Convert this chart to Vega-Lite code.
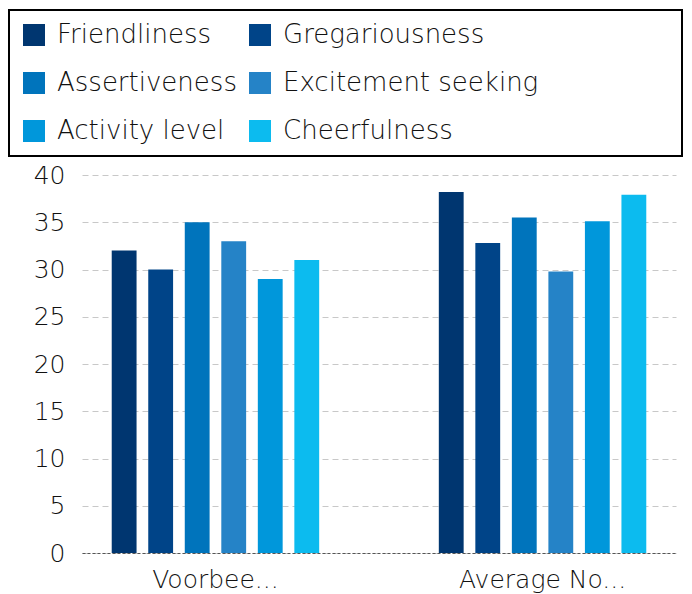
{
  "$schema": "https://vega.github.io/schema/vega-lite/v6.json",
  "width": 594,
  "height": 378,
  "autosize": "none",
  "padding": {"left": 82, "top": 175, "right": 16, "bottom": 41},
  "background": "white",
  "config": {
    "view": {"stroke": null},
    "font": "DejaVu Sans Light, DejaVu Sans",
    "legend": {"strokeColor": "#000000", "padding": 12}
  },
  "data": {
    "values": [
      {"group": "Voorbee...", "metric": "Friendliness", "value": 32},
      {"group": "Voorbee...", "metric": "Gregariousness", "value": 30},
      {"group": "Voorbee...", "metric": "Assertiveness", "value": 35},
      {"group": "Voorbee...", "metric": "Excitement seeking", "value": 33},
      {"group": "Voorbee...", "metric": "Activity level", "value": 29},
      {"group": "Voorbee...", "metric": "Cheerfulness", "value": 31},
      {"group": "Average No...", "metric": "Friendliness", "value": 38.2},
      {"group": "Average No...", "metric": "Gregariousness", "value": 32.8},
      {"group": "Average No...", "metric": "Assertiveness", "value": 35.5},
      {"group": "Average No...", "metric": "Excitement seeking", "value": 29.8},
      {"group": "Average No...", "metric": "Activity level", "value": 35.1},
      {"group": "Average No...", "metric": "Cheerfulness", "value": 37.9}
    ]
  },
  "mark": {"type": "bar"},
  "encoding": {
    "x": {
      "field": "group",
      "type": "nominal",
      "sort": ["Voorbee...", "Average No..."],
      "scale": {"paddingInner": 0.33, "paddingOuter": 0.073},
      "axis": {
        "title": null,
        "labelAngle": 0,
        "labelFontSize": 25,
        "labelFontWeight": 200,
        "labelColor": "#111111",
        "labelPadding": 14,
        "ticks": false,
        "domain": true,
        "domainColor": "#555555",
        "domainDash": [3, 2],
        "domainWidth": 1,
        "grid": false
      }
    },
    "xOffset": {
      "field": "metric",
      "type": "nominal",
      "sort": ["Friendliness", "Gregariousness", "Assertiveness", "Excitement seeking", "Activity level", "Cheerfulness"],
      "scale": {"paddingInner": 0.32, "paddingOuter": 0.16}
    },
    "y": {
      "field": "value",
      "type": "quantitative",
      "scale": {"domain": [0, 40]},
      "axis": {
        "title": null,
        "values": [0, 5, 10, 15, 20, 25, 30, 35, 40],
        "domain": false,
        "ticks": false,
        "labelFontSize": 25,
        "labelFontWeight": 200,
        "labelColor": "#111111",
        "labelPadding": 17,
        "gridColor": "#c8c8c8",
        "gridDash": [6, 4],
        "gridWidth": 1
      }
    },
    "color": {
      "field": "metric",
      "type": "nominal",
      "scale": {
        "domain": ["Friendliness", "Gregariousness", "Assertiveness", "Excitement seeking", "Activity level", "Cheerfulness"],
        "range": ["#003670", "#004488", "#0074bc", "#2583c7", "#0097db", "#0cbbef"]
      },
      "legend": {
        "orient": "none",
        "legendX": -73,
        "legendY": -165,
        "direction": "horizontal",
        "columns": 2,
        "gridAlign": "none",
        "title": "\u200b\u00a0\u00a0\u00a0\u00a0\u00a0\u00a0\u00a0\u00a0\u00a0\u00a0\u00a0\u00a0\u00a0\u00a0\u00a0\u00a0\u00a0\u00a0\u200b",
        "titleOrient": "right",
        "titleAnchor": "start",
        "titleAngle": 0,
        "titleFontSize": 23,
        "titlePadding": 0,
        "titleLimit": 1000,
        "symbolType": "square",
        "symbolSize": 484,
        "symbolStrokeWidth": 0,
        "labelFontSize": 26,
        "labelFontWeight": 200,
        "labelColor": "#111111",
        "labelOffset": 10,
        "labelLimit": 400,
        "columnPadding": 10,
        "rowPadding": 22,
        "encode": {"legend": {"update": {"strokeWidth": {"value": 2}}}}
      }
    }
  }
}
